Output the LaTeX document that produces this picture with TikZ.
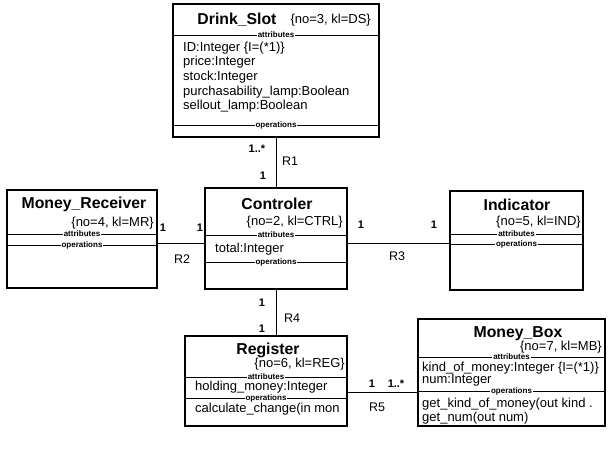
\documentclass[tikz,border=0pt]{standalone}
\usepackage{fontspec}
\setmainfont{Liberation Sans}

\begin{document}
\begin{tikzpicture}[x=1pt, y=-1pt,
  classbox/.style={draw, line width=1.1pt, inner sep=0pt},
  classname/.style={font=\fontsize{15.8}{18}\selectfont\bfseries, inner sep=0pt},
  classtag/.style={font=\fontsize{13}{15}\selectfont, anchor=east, inner sep=0pt},
  member/.style={font=\fontsize{13}{15}\selectfont, anchor=west, inner sep=0pt},
  sepline/.style={line width=0.8pt},
  seplabel/.style={font=\fontsize{8}{9}\selectfont\bfseries, fill=white, inner xsep=1pt, inner ysep=0pt},
  assoc/.style={line width=0.8pt},
  mult/.style={font=\fontsize{11}{12}\selectfont\bfseries, inner sep=0pt},
  relname/.style={font=\fontsize{12.5}{14}\selectfont, inner sep=0pt}]
  \useasboundingbox[fill=white] (0,0) rectangle (610,454);

  \node[classbox, minimum width=206pt, minimum height=133pt] (slot) at (276,70.5) {};
  \node[classname] (slot-name) at (237,20) {Drink\_Slot};
  \node[classtag] (slot-tag) at (371,20) {\{no=3, kl=DS\}};
  \draw[sepline] (173,35) -- node[seplabel] (slot-attr) {attributes} (379,35);
  \node[member] (slot-id) at (183,48) {ID:Integer \{I=(*1)\}};
  \node[member] (slot-price) at (183,62) {price:Integer};
  \node[member] (slot-stock) at (183,77) {stock:Integer};
  \node[member] (slot-plamp) at (183,92) {purchasability\_lamp:Boolean};
  \node[member] (slot-slamp) at (183,106) {sellout\_lamp:Boolean};
  \draw[sepline] (173,125) -- node[seplabel] (slot-ops) {operations} (379,125);

  \node[classbox, minimum width=142pt, minimum height=101pt] (ctrl) at (276,238.5) {};
  \node[classname] (ctrl-name) at (277,204) {Controler};
  \node[classtag] (ctrl-tag) at (343,222) {\{no=2, kl=CTRL\}};
  \draw[sepline] (205,235) -- node[seplabel] (ctrl-attr) {attributes} (347,235);
  \node[member] (ctrl-total) at (215,249) {total:Integer};
  \draw[sepline] (205,262) -- node[seplabel] (ctrl-ops) {operations} (347,262);

  \node[classbox, minimum width=150pt, minimum height=98pt] (receiver) at (82,239) {};
  \node[classname] (receiver-name) at (84,204) {Money\_Receiver};
  \node[classtag] (receiver-tag) at (154,223) {\{no=4, kl=MR\}};
  \draw[sepline] (7,234) -- node[seplabel] (receiver-attr) {attributes} (157,234);
  \draw[sepline] (7,245) -- node[seplabel] (receiver-ops) {operations} (157,245);

  \node[classbox, minimum width=133pt, minimum height=99pt] (indicator) at (516.5,240.5) {};
  \node[classname] (indicator-name) at (517,205) {Indicator};
  \node[classtag] (indicator-tag) at (581,222) {\{no=5, kl=IND\}};
  \draw[sepline] (450,234) -- node[seplabel] (indicator-attr) {attributes} (583,234);
  \draw[sepline] (450,244) -- node[seplabel] (indicator-ops) {operations} (583,244);

  \node[classbox, minimum width=162pt, minimum height=90pt] (register) at (266,381) {};
  \node[classname] (register-name) at (268,350) {Register};
  \node[classtag] (register-tag) at (345,364) {\{no=6, kl=REG\}};
  \draw[sepline] (185,377) -- node[seplabel] (register-attr) {attributes} (347,377);
  \node[member] (register-money) at (195,387) {holding\_money:Integer};
  \draw[sepline] (185,398) -- node[seplabel] (register-ops) {operations} (347,398);
  \node[member] (register-calc) at (195,409) {calculate\_change(in mon};

  \node[classbox, minimum width=187pt, minimum height=107pt] (moneybox) at (511.5,372.5) {};
  \node[classname] (moneybox-name) at (518,334) {Money\_Box};
  \node[classtag] (moneybox-tag) at (602,347) {\{no=7, kl=MB\}};
  \draw[sepline] (418,357) -- node[seplabel] (moneybox-attr) {attributes} (605,357);
  \node[member] (moneybox-kind) at (422,368) {kind\_of\_money:Integer \{I=(*1)\}};
  \node[member] (moneybox-num) at (422,380) {num:Integer};
  \draw[sepline] (418,391) -- node[seplabel] (moneybox-ops) {operations} (605,391);
  \node[member] (moneybox-getkind) at (422,404) {get\_kind\_of\_money(out kind .};
  \node[member] (moneybox-getnum) at (422,418) {get\_num(out num)};

  \draw[assoc] (slot.south) -- (ctrl.north);
  \draw[assoc] ([yshift=-4pt]receiver.east) -- ([yshift=-4pt]receiver.east -| ctrl.west);
  \draw[assoc] ([yshift=-4.5pt]ctrl.east) -- ([yshift=-4.5pt]ctrl.east -| indicator.west);
  \draw[assoc] (ctrl.south) -- (ctrl.south |- register.north);
  \draw[assoc] ([yshift=-11pt]register.east) -- ([yshift=-11pt]register.east -| moneybox.west);

  \node[mult] (r1-slot) at (257,149) {1..*};
  \node[relname] (r1) at (290,161) {R1};
  \node[mult] (r1-ctrl) at (263,176) {1};
  \node[mult] (r2-receiver) at (163,228) {1};
  \node[mult] (r2-ctrl) at (200,228) {1};
  \node[relname] (r2) at (182,259) {R2};
  \node[mult] (r3-ctrl) at (361,225) {1};
  \node[mult] (r3-indicator) at (434,225) {1};
  \node[relname] (r3) at (397,256) {R3};
  \node[mult] (r4-ctrl) at (262,303) {1};
  \node[mult] (r4-register) at (262,329) {1};
  \node[relname] (r4) at (292,318) {R4};
  \node[mult] (r5-register) at (372,384) {1};
  \node[mult] (r5-moneybox) at (396,384) {1..*};
  \node[relname] (r5) at (377,407) {R5};
\end{tikzpicture}
\end{document}
